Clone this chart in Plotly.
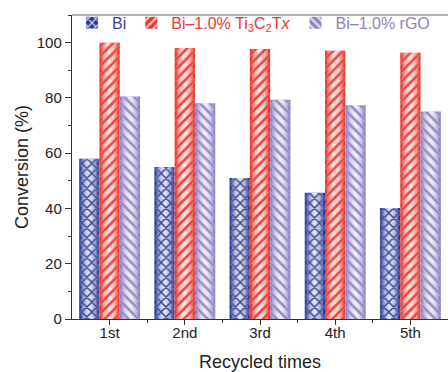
import plotly.graph_objects as go

# Recycling test: conversion after each run
categories = ["1st", "2nd", "3rd", "4th", "5th"]
bi = [58.0, 55.0, 51.0, 45.7, 40.2]
bi_ti3c2tx = [100.0, 98.1, 97.7, 97.1, 96.3]
bi_rgo = [80.5, 78.1, 79.3, 77.3, 75.1]

series_names = ["Bi", "Bi–1.0% Ti<sub>3</sub>C<sub>2</sub>T<i>x</i>", "Bi–1.0% rGO"]
series_values = [bi, bi_ti3c2tx, bi_rgo]
edge_colors = ["#2A3892", "#E6352C", "#8E7FC2"]
stripe_light = ["#C9CFEE", "#FBC9C3", "#E6E0F4"]
text_colors = ["#3546A0", "#E8382F", "#8F80C2"]
patterns = ["x", "/", "\\"]

x = list(range(len(categories)))
bar_w = 0.27
group_start = -0.405

fig = go.Figure()

for i, (name, vals) in enumerate(zip(series_names, series_values)):
    off = group_start + i * bar_w
    label = f"<span style='color:{text_colors[i]}'>{name}</span>"
    # base bar: edge colour with light hatch (also the legend swatch)
    fig.add_trace(go.Bar(
        x=x, y=vals, name=label, offset=off, width=bar_w,
        marker=dict(color=edge_colors[i], line=dict(width=0),
                    pattern=dict(shape=patterns[i], bgcolor=edge_colors[i],
                                 fgcolor=stripe_light[i], size=7, solidity=0.4)),
        showlegend=True,
    ))
    # white layers narrowing towards the centre give the cylinder shading
    for frac in [0.80, 0.64, 0.48, 0.32, 0.16]:
        w = bar_w * frac
        fig.add_trace(go.Bar(
            x=x, y=vals, offset=off + (bar_w - w) / 2, width=w,
            marker=dict(color="white", opacity=0.32, line=dict(width=0)),
            showlegend=False, hoverinfo="skip",
        ))
    # coloured hatch lines across the whole bar
    fig.add_trace(go.Bar(
        x=x, y=vals, offset=off, width=bar_w,
        marker=dict(color="rgba(0,0,0,0)", line=dict(width=0),
                    pattern=dict(shape=patterns[i], bgcolor="rgba(0,0,0,0)",
                                 fgcolor=edge_colors[i], fgopacity=0.9,
                                 size=7, solidity=0.4, fillmode="overlay")),
        showlegend=False, hoverinfo="skip",
    ))

axis_color = "#333333"
font_family = "Liberation Sans, Arial, sans-serif"

fig.update_layout(
    template="none",
    width=448, height=372,
    margin=dict(l=72, r=0, t=15, b=53, autoexpand=False),
    barmode="overlay",
    plot_bgcolor="white", paper_bgcolor="white",
    font=dict(family=font_family, size=15, color="#222222"),
    legend=dict(
        orientation="h", x=0.0, xanchor="left", y=1.03, yanchor="top",
        bgcolor="rgba(0,0,0,0)", font=dict(size=16), itemwidth=30,
        traceorder="normal",
    ),
    xaxis=dict(
        range=[-0.5, 4.5], tickmode="array", tickvals=x, ticktext=categories,
        ticks="outside", ticklen=5, tickwidth=1.2, tickcolor=axis_color,
        ticklabelstandoff=-5, automargin=False,
        showline=True, linecolor=axis_color, linewidth=1.4, mirror=False,
        showgrid=False, zeroline=False,
        minor=dict(tickmode="array", tickvals=[v + 0.5 for v in x[:-1]],
                   ticks="outside", ticklen=3, tickcolor=axis_color,
                   showgrid=False),
        title=dict(text="Recycled times", font=dict(size=18), standoff=15),
        tickfont=dict(size=15),
    ),
    yaxis=dict(
        range=[0, 110], tickmode="linear", tick0=0, dtick=20,
        ticks="outside", ticklen=6, tickwidth=1.2, tickcolor=axis_color,
        showline=True, linecolor=axis_color, linewidth=1.4, mirror=False,
        showgrid=False, zeroline=False, automargin=False,
        minor=dict(dtick=10, ticks="outside", ticklen=3, tickcolor=axis_color,
                   showgrid=False),
        title=dict(text="Conversion (%)", font=dict(size=18), standoff=3),
        tickfont=dict(size=15),
    ),
    # top frame line of the plot area
    shapes=[dict(type="line", xref="paper", yref="paper", x0=0, x1=1, y0=1, y1=1,
                 line=dict(color="#666666", width=1.2))],
)

fig.write_html(
    "out.html",
    post_script=(
        "document.body.style.margin='0';"
        "document.body.style.overflow='hidden';"
        "document.documentElement.style.overflow='hidden';"
    ),
)
